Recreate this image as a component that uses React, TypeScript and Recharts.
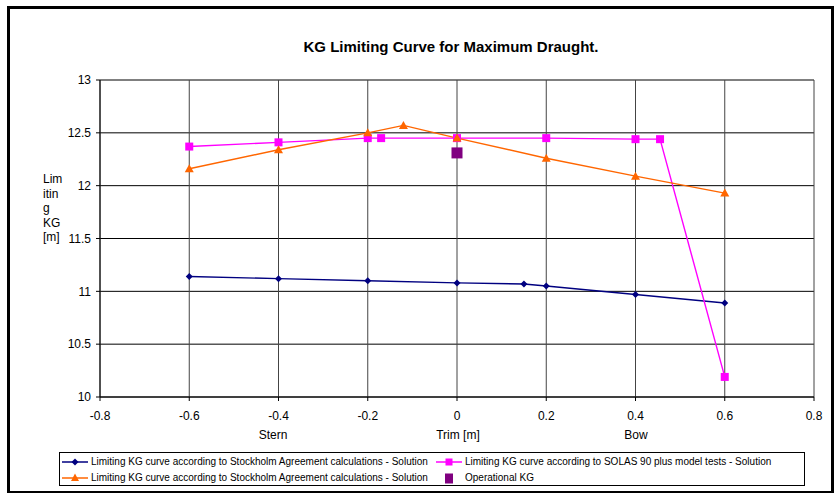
import React from "react";
import {
  ComposedChart,
  Line,
  Scatter,
  XAxis,
  YAxis,
  CartesianGrid,
} from "recharts";

// Stockholm Agreement (blue, diamonds)
const stockholmTrim = [-0.6, -0.4, -0.2, 0, 0.15, 0.2, 0.4, 0.6];
const stockholmKG = [11.14, 11.12, 11.1, 11.08, 11.07, 11.05, 10.97, 10.89];

// SOLAS 90 plus model tests (magenta, squares)
const solasTrim = [-0.6, -0.4, -0.2, -0.17, 0, 0.2, 0.4, 0.455, 0.6];
const solasKG = [12.37, 12.41, 12.45, 12.45, 12.45, 12.45, 12.44, 12.44, 10.19];

// Stockholm Agreement, second solution (orange, triangles)
const stockholm2Trim = [-0.6, -0.4, -0.2, -0.12, 0, 0.2, 0.4, 0.6];
const stockholm2KG = [12.16, 12.34, 12.5, 12.57, 12.45, 12.26, 12.09, 11.93];

// Operational KG
const operationalTrim = [0];
const operationalKG = [12.31];

const xTicks = [-0.8, -0.6, -0.4, -0.2, 0, 0.2, 0.4, 0.6, 0.8];
const yTicks = [10, 10.5, 11, 11.5, 12, 12.5, 13];

const legendNames = [
  "Limiting KG curve according to Stockholm Agreement calculations - Solution",
  "Limiting KG curve according to SOLAS 90 plus model tests - Solution",
  "Limiting KG curve according to Stockholm Agreement calculations - Solution",
  "Operational KG",
];

const toRows = (xs: number[], ys: number[]) =>
  xs.map((trim, i) => ({ trim, kg: ys[i] }));

const stockholmData = toRows(stockholmTrim, stockholmKG);
const solasData = toRows(solasTrim, solasKG);
const stockholm2Data = toRows(stockholm2Trim, stockholm2KG);
const operationalData = toRows(operationalTrim, operationalKG);

const BLUE = "#000080";
const PINK = "#FF00FF";
const ORANGE = "#FF6600";
const PURPLE = "#800080";
const FONT = "'Liberation Sans', Arial, sans-serif";

const Diamond = (props: any) => {
  const { cx, cy, index } = props;
  if (cx == null || cy == null) return <g key={index} />;
  return (
    <path
      key={index}
      d={`M${cx},${cy - 3.5}L${cx + 3.5},${cy}L${cx},${cy + 3.5}L${cx - 3.5},${cy}Z`}
      fill={BLUE}
    />
  );
};

const Square = (props: any) => {
  const { cx, cy, index } = props;
  if (cx == null || cy == null) return <g key={index} />;
  return <rect key={index} x={cx - 4} y={cy - 4} width={8} height={8} fill={PINK} />;
};

const Triangle = (props: any) => {
  const { cx, cy, index } = props;
  if (cx == null || cy == null) return <g key={index} />;
  return (
    <path
      key={index}
      d={`M${cx},${cy - 4.5}L${cx + 4.5},${cy + 3.5}L${cx - 4.5},${cy + 3.5}Z`}
      fill={ORANGE}
    />
  );
};

const OpSquare = (props: any) => {
  const { cx, cy } = props;
  return <rect x={cx - 5.5} y={cy - 5.5} width={11} height={11} fill={PURPLE} />;
};

const LegendItem = ({
  color,
  marker,
  text,
  noLine,
}: {
  color: string;
  marker: "diamond" | "square" | "triangle" | "big";
  text: string;
  noLine?: boolean;
}) => (
  <div style={{ display: "flex", alignItems: "center", height: 16 }}>
    <svg width={27} height={12} style={{ marginRight: 2 }}>
      {!noLine && <line x1={0} y1={6} x2={26} y2={6} stroke={color} strokeWidth={1.5} />}
      {marker === "diamond" && <path d="M13,2.5L16.5,6L13,9.5L9.5,6Z" fill={color} />}
      {marker === "square" && <rect x={9.5} y={2.5} width={7} height={7} fill={color} />}
      {marker === "triangle" && <path d="M13,1.5L17,9L9,9Z" fill={color} />}
      {marker === "big" && <rect x={9} y={1.5} width={8} height={10} fill={color} />}
    </svg>
    <span style={{ whiteSpace: "nowrap" }}>{text}</span>
  </div>
);

export default function App() {
  return (
    <div
      style={{
        position: "absolute",
        left: 0,
        top: 0,
        width: 836,
        height: 493,
        fontFamily: FONT,
        background: "#fff",
        overflow: "hidden",
      }}
    >
      <div
        style={{
          position: "absolute",
          left: 7,
          top: 6,
          width: 821,
          height: 482,
          border: "3px solid #000",
        }}
      />
      <div
        style={{
          position: "absolute",
          left: 0,
          width: 902,
          top: 38,
          textAlign: "center",
          fontSize: 15,
          fontWeight: "bold",
        }}
      >
        KG Limiting Curve for Maximum Draught.
      </div>
      <div
        style={{
          position: "absolute",
          left: 43,
          top: 172,
          fontSize: 12,
          lineHeight: "14.5px",
        }}
      >
        Lim
        <br />
        itin
        <br />
        g
        <br />
        KG
        <br />
        [m]
      </div>

      <ComposedChart
        width={836}
        height={493}
        margin={{ top: 80, right: 22, left: 0, bottom: 0 }}
        style={{ position: "absolute", left: 0, top: 0 }}
      >
        <CartesianGrid horizontal={true} vertical={false} stroke="#000" strokeWidth={1} />
        <CartesianGrid horizontal={false} vertical={true} stroke="#444" strokeWidth={1} />
        <XAxis
          dataKey="trim"
          type="number"
          domain={[-0.8, 0.8]}
          ticks={xTicks}
          interval={0}
          allowDataOverflow
          height={96}
          tickSize={4}
          tickMargin={10}
          stroke="#000"
          tick={{ fill: "#000", fontSize: 12, fontFamily: FONT }}
        />
        <YAxis
          type="number"
          domain={[10, 13]}
          ticks={yTicks}
          interval={0}
          width={100}
          tickSize={4}
          tickMargin={5}
          stroke="#000"
          tick={{ fill: "#000", fontSize: 12, fontFamily: FONT }}
        />
        <Line
          data={stockholmData}
          dataKey="kg"
          stroke={BLUE}
          strokeWidth={1.4}
          dot={Diamond}
          activeDot={false}
          isAnimationActive={false}
        />
        <Line
          data={solasData}
          dataKey="kg"
          stroke={PINK}
          strokeWidth={1.4}
          dot={Square}
          activeDot={false}
          isAnimationActive={false}
        />
        <Line
          data={stockholm2Data}
          dataKey="kg"
          stroke={ORANGE}
          strokeWidth={1.4}
          dot={Triangle}
          activeDot={false}
          isAnimationActive={false}
        />
        <Scatter
          data={operationalData}
          dataKey="kg"
          fill={PURPLE}
          shape={OpSquare}
          isAnimationActive={false}
        />
      </ComposedChart>

      {[
        { text: "Stern", x: 273 },
        { text: "Trim [m]", x: 458 },
        { text: "Bow", x: 636 },
      ].map((l) => (
        <div
          key={l.text}
          style={{
            position: "absolute",
            left: l.x - 60,
            width: 120,
            top: 428,
            textAlign: "center",
            fontSize: 12,
          }}
        >
          {l.text}
        </div>
      ))}

      <div
        style={{
          position: "absolute",
          left: 59,
          top: 452,
          width: 746,
          height: 34,
          border: "1px solid #000",
          boxSizing: "border-box",
          fontSize: 10,
          padding: "1px 0 0 2px",
          display: "grid",
          gridTemplateColumns: "374px auto",
          alignContent: "center",
        }}
      >
        <LegendItem color={BLUE} marker="diamond" text={legendNames[0]} />
        <LegendItem color={PINK} marker="square" text={legendNames[1]} />
        <LegendItem color={ORANGE} marker="triangle" text={legendNames[2]} />
        <LegendItem color={PURPLE} marker="big" text={legendNames[3]} noLine />
      </div>
    </div>
  );
}
